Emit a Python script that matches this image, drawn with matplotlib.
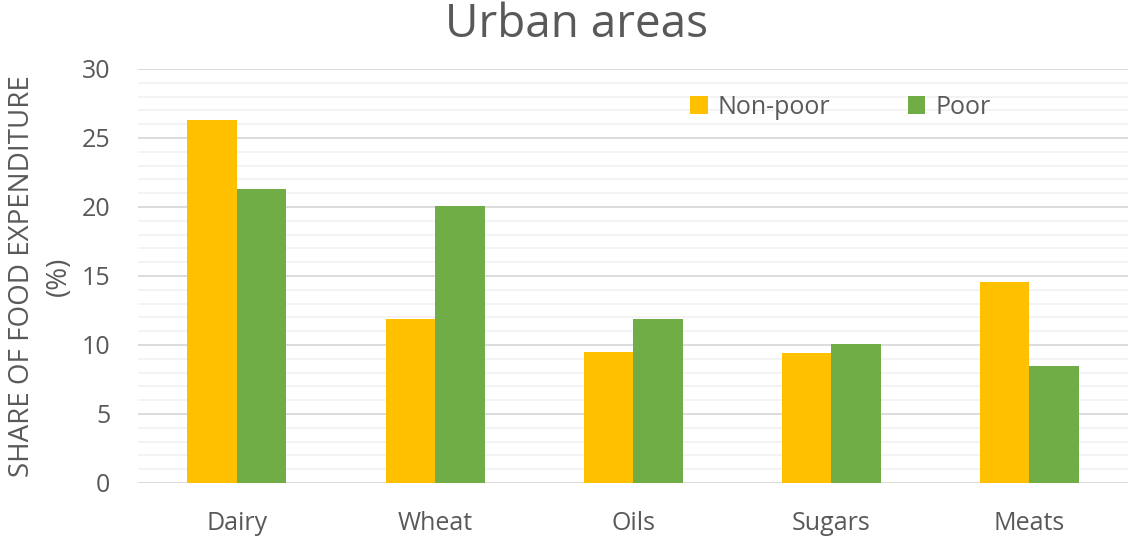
import matplotlib
matplotlib.use("Agg")
import matplotlib.pyplot as plt
import numpy as np
from matplotlib.ticker import MultipleLocator

categories = ["Dairy", "Wheat", "Oils", "Sugars", "Meats"]
non_poor = [26.3, 11.9, 9.5, 9.4, 14.6]
poor = [21.3, 20.1, 11.9, 10.1, 8.5]
yticks = [0, 5, 10, 15, 20, 25, 30]

plt.rcParams['font.family'] = ['Open Sans', 'DejaVu Sans']
text_color = '#595959'

fig = plt.figure(figsize=(11.32, 5.39), dpi=100)
ax = fig.add_axes([0.1219, 0.1039, 0.8746, 0.7681])

x = np.arange(len(categories))
w = 0.25
ax.bar(x - w/2, non_poor, width=w, color='#FFC000', label='Non-poor', zorder=3)
ax.bar(x + w/2, poor, width=w, color='#70AD47', label='Poor', zorder=3)

ax.set_xlim(-0.5, len(categories) - 0.5)
ax.set_ylim(0, 30)
ax.set_yticks(yticks)
ax.yaxis.set_minor_locator(MultipleLocator(1))
ax.grid(axis='y', which='major', color='#D9D9D9', linewidth=1.3, zorder=0)
ax.grid(axis='y', which='minor', color='#F2F2F2', linewidth=1.3, zorder=0)
ax.set_xticks(x)
ax.set_xticklabels(categories)
ax.tick_params(axis='both', which='both', length=0, colors=text_color, labelsize=18)
ax.tick_params(axis='x', pad=20)
ax.tick_params(axis='y', pad=20)
for s in ax.spines.values():
    s.set_visible(False)

ax.set_ylabel("SHARE OF FOOD EXPENDITURE\n(%)", fontsize=20, color=text_color, labelpad=6, linespacing=1.45)
fig.text(577 / 1132, 1 - 25 / 539, "Urban areas", fontsize=33, color=text_color, ha='center', va='center')

leg = ax.legend(loc='upper left', bbox_to_anchor=(0.535, 0.992), ncol=2, frameon=False,
                fontsize=18, handlelength=0.7, handleheight=0.7, columnspacing=3.1, handletextpad=0.4)
for t in leg.get_texts():
    t.set_color(text_color)

fig.savefig("out.png", dpi=100)
